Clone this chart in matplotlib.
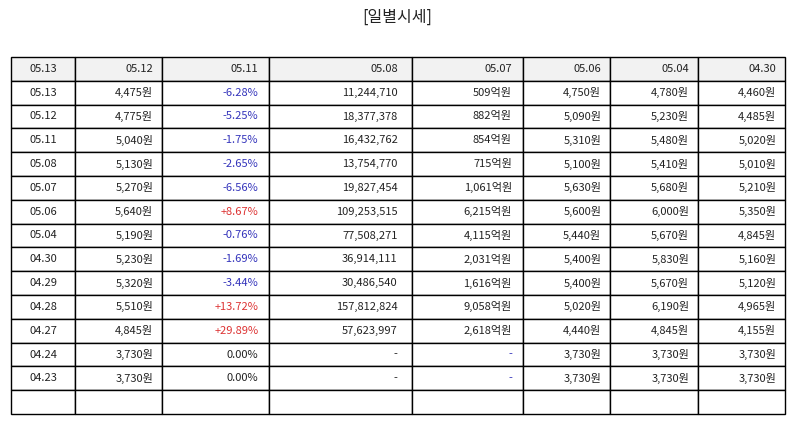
import matplotlib.pyplot as plt
from matplotlib.table import Table

plt.rcParams['font.family'] = ['Noto Sans CJK KR', 'DejaVu Sans']

title = '[일별시세]'
header = ['05.13', '05.12', '05.11', '05.08', '05.07', '05.06', '05.04', '04.30']

dates = ['05.13', '05.12', '05.11', '05.08', '05.07', '05.06', '05.04',
         '04.30', '04.29', '04.28', '04.27', '04.24', '04.23']
close = ['4,475원', '4,775원', '5,040원', '5,130원', '5,270원', '5,640원', '5,190원',
         '5,230원', '5,320원', '5,510원', '4,845원', '3,730원', '3,730원']
change = ['-6.28%', '-5.25%', '-1.75%', '-2.65%', '-6.56%', '+8.67%', '-0.76%',
          '-1.69%', '-3.44%', '+13.72%', '+29.89%', '0.00%', '0.00%']
volume = ['11,244,710', '18,377,378', '16,432,762', '13,754,770', '19,827,454',
          '109,253,515', '77,508,271', '36,914,111', '30,486,540', '157,812,824',
          '57,623,997', '-', '-']
amount = ['509억원', '882억원', '854억원', '715억원', '1,061억원', '6,215억원',
          '4,115억원', '2,031억원', '1,616억원', '9,058억원', '2,618억원', '-', '-']
open_ = ['4,750원', '5,090원', '5,310원', '5,100원', '5,630원', '5,600원', '5,440원',
         '5,400원', '5,400원', '5,020원', '4,440원', '3,730원', '3,730원']
high = ['4,780원', '5,230원', '5,480원', '5,410원', '5,680원', '6,000원', '5,670원',
        '5,830원', '5,670원', '6,190원', '4,845원', '3,730원', '3,730원']
low = ['4,460원', '4,485원', '5,020원', '5,010원', '5,210원', '5,350원', '4,845원',
       '5,160원', '5,120원', '4,965원', '4,155원', '3,730원', '3,730원']

columns = [dates, close, change, volume, amount, open_, high, low]

# 열 폭 (픽셀 기준)
col_edges = [11, 75, 162, 269, 412, 523, 610, 698, 785]
W, H = 794, 425
tbl_top, tbl_bottom = 57, 414

BLUE = '#3333bb'
RED = '#dd3333'
DARK = '#222222'


def change_color(s):
    if s.startswith('-'):
        return BLUE
    if s.startswith('+'):
        return RED
    return DARK


fig = plt.figure(figsize=(W / 100, H / 100), dpi=100)
ax = fig.add_axes([0, 0, 1, 1])
ax.axis('off')

fig.text(0.5, 1 - 17 / H, title, ha='center', va='center', fontsize=11.5, color='#222222')

rows = [header] + [list(r) for r in zip(*columns)] + [[''] * len(header)]
widths = [col_edges[k + 1] - col_edges[k] for k in range(len(header))]

bbox = [col_edges[0] / W, 1 - tbl_bottom / H,
        (col_edges[-1] - col_edges[0]) / W, (tbl_bottom - tbl_top) / H]
tb = Table(ax, bbox=bbox)

for i, row in enumerate(rows):
    for j, val in enumerate(row):
        fc = '#f2f2f2' if i == 0 else 'white'
        cell = tb.add_cell(i, j, width=widths[j], height=1, text=val,
                           loc='center' if j == 0 else 'right', facecolor=fc,
                           edgecolor='black')
        cell.set_linewidth(1.0)
        color = DARK
        if 0 < i <= len(dates):
            if j == 2:
                color = change_color(val)
            elif j == 4 and val == '-':
                color = BLUE
        cell.get_text().set_color(color)

tb.auto_set_font_size(False)
tb.set_fontsize(8)
ax.add_table(tb)

fig.savefig('out.png', dpi=100)
